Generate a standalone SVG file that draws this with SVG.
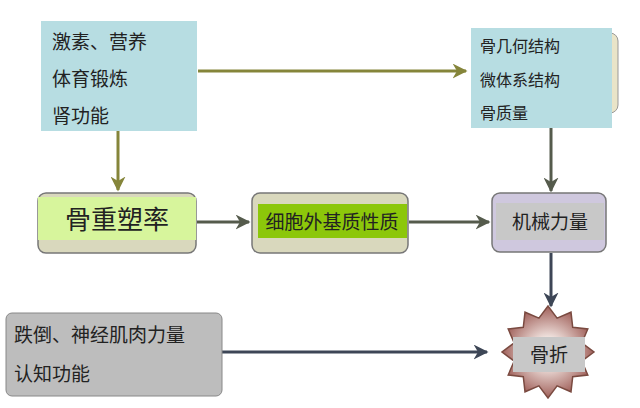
<svg xmlns="http://www.w3.org/2000/svg" width="640" height="408" viewBox="0 0 640 408">
<defs>
<style>
text{font-family:"Liberation Sans","Noto Sans CJK SC",sans-serif;fill:#222}
.olive{stroke:#85853a;stroke-width:3;fill:none}
.dk{stroke:#555b4c;stroke-width:3;fill:none}
.bl{stroke:#3d4656;stroke-width:3;fill:none}
</style>
<marker id="ao" viewBox="0 0 10 10" refX="9" refY="5" markerWidth="5" markerHeight="5" orient="auto"><path d="M0,0L10,5L0,10L3,5Z" fill="#85853a"/></marker>
<marker id="ad" viewBox="0 0 10 10" refX="9" refY="5" markerWidth="5" markerHeight="5" orient="auto"><path d="M0,0L10,5L0,10L3,5Z" fill="#555b4c"/></marker>
<marker id="ab" viewBox="0 0 10 10" refX="9" refY="5" markerWidth="5" markerHeight="5" orient="auto"><path d="M0,0L10,5L0,10L3,5Z" fill="#3d4656"/></marker>
<radialGradient id="burst"><stop offset="0.3" stop-color="#f2e6e2"/><stop offset="1" stop-color="#a0605a"/></radialGradient>
</defs>
<rect width="640" height="408" fill="#fff"/>
<g id="connectors">
<line x1="198" y1="71" x2="466" y2="71" class="olive" marker-end="url(#ao)"/>
<line x1="118" y1="131" x2="118" y2="190" class="olive" marker-end="url(#ao)"/>
<line x1="197" y1="222" x2="249" y2="222" class="dk" marker-end="url(#ad)"/>
<line x1="409" y1="222" x2="489" y2="222" class="dk" marker-end="url(#ad)"/>
<line x1="551" y1="128" x2="551" y2="191" class="dk" marker-end="url(#ad)"/>
<line x1="551" y1="253" x2="551" y2="306" class="bl" marker-end="url(#ab)"/>
<line x1="222" y1="352" x2="487" y2="352" class="bl" marker-end="url(#ab)"/>
</g>
<g id="n1">
<rect x="41" y="21" width="156" height="110" fill="#b7dde2"/>
<text x="52" y="49" font-size="19">激素、营养</text>
<text x="52" y="86" font-size="19">体育锻炼</text>
<text x="52" y="123" font-size="19">肾功能</text>
</g>
<g id="n2">
<rect x="472" y="33" width="146" height="80" rx="8" fill="#e9e4c8" stroke="#999" stroke-width="1"/>
<rect x="471" y="28" width="141" height="100" fill="#b7dde2"/>
<text x="480" y="52" font-size="16">骨几何结构</text>
<text x="480" y="86" font-size="16">微体系结构</text>
<text x="480" y="119" font-size="16">骨质量</text>
</g>
<g id="n3">
<rect x="38" y="193" width="158" height="60" rx="8" fill="#d9d8bd" stroke="#777" stroke-width="1.5"/>
<rect x="38" y="197" width="158" height="43" fill="#d7f59c"/>
<text x="117" y="229" font-size="26" text-anchor="middle">骨重塑率</text>
</g>
<g id="n4">
<rect x="252" y="193" width="156" height="60" rx="8" fill="#d9d8bd" stroke="#777" stroke-width="1.5"/>
<rect x="258" y="204" width="149" height="34" fill="#8cc70a"/>
<text x="332" y="229" font-size="19" text-anchor="middle">细胞外基质性质</text>
</g>
<g id="n5">
<rect x="492" y="193" width="114" height="59" rx="8" fill="#cfc8de" stroke="#777" stroke-width="1.5"/>
<rect x="496" y="203" width="108" height="37" fill="#c8c8c8"/>
<text x="550" y="229" font-size="19" text-anchor="middle">机械力量</text>
</g>
<g id="n6">
<rect x="6" y="313" width="216" height="83" rx="6" fill="#bdbdbd" stroke="#888" stroke-width="1"/>
<text x="14" y="342" font-size="19">跌倒、神经肌肉力量</text>
<text x="14" y="381" font-size="19">认知功能</text>
</g>
<g id="n7">
<polygon points="594,352 581.8,361.1 587.8,375 572.7,376.7 571,391.8 557.1,385.8 548,398 538.9,385.8 525,391.8 523.3,376.7 508.2,375 514.2,361.1 502,352 514.2,342.9 508.2,329 523.3,327.3 525,312.2 538.9,318.2 548,306 557.1,318.2 571,312.2 572.7,327.3 587.8,329 581.8,342.9" fill="url(#burst)" stroke="#7a4a40" stroke-width="1.5"/>
<rect x="513" y="337" width="72" height="35" fill="#c8c8c8"/>
<text x="549" y="362" font-size="19" text-anchor="middle">骨折</text>
</g>
</svg>
